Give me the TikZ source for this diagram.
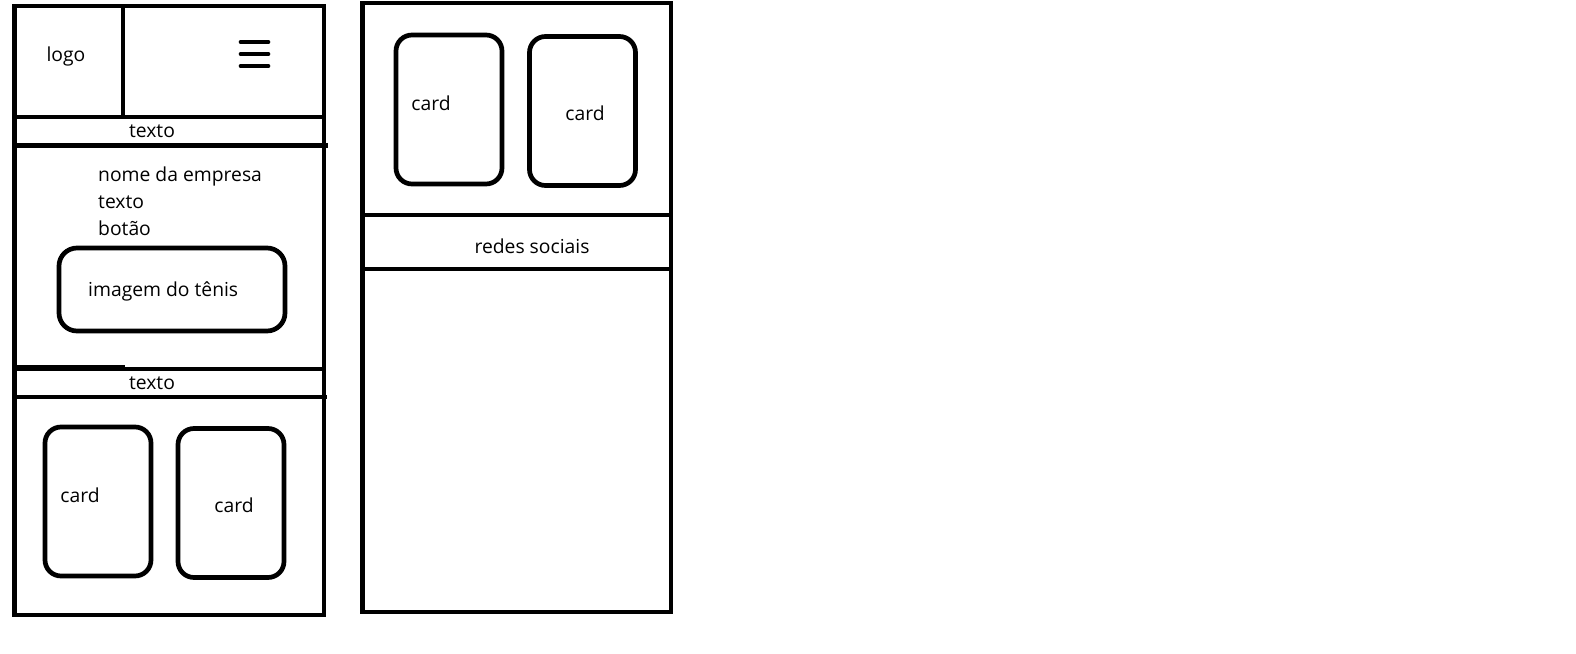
\documentclass[tikz,border=0pt]{standalone}
\usepackage{fontspec}
\setmainfont{Open Sans}
\usetikzlibrary{positioning}
\tikzstyle{frame} = [draw, line width=4.7pt]
\tikzstyle{card} = [rectangle, draw, line width=4.7pt, rounded corners=16pt,
    minimum width=106pt, minimum height=149pt, inner sep=0pt]
\tikzstyle{picbox} = [rectangle, draw, line width=4.7pt, rounded corners=18pt,
    minimum width=226pt, minimum height=83pt, inner sep=0pt]
\tikzstyle{txt} = [font=\fontsize{19.3}{22}\selectfont, inner sep=0pt, anchor=base]
\tikzstyle{menu} = [draw, line width=4.7pt, line cap=round]

\begin{document}
\begin{tikzpicture}[x=1pt, y=-1pt]
    \useasboundingbox (0,0) rectangle (1576,653);
    % Mobile page, first part
    \draw [frame] (14.5,6) rectangle (324,615);
    \draw [frame] (123,6) -- (123,117);
    \draw [frame] (14.5,117) -- (324,117);
    \draw [frame] (14.5,145.5) -- (328,145.5);
    \draw [frame] (14.5,367) -- (125,367);
    \draw [frame] (14.5,369) -- (326,369);
    \draw [frame] (14.5,397) -- (327,397);
    \draw [menu] (241,42) -- (268,42);
    \draw [menu] (241,54) -- (268,54);
    \draw [menu] (241,66) -- (268,66);
    \node [txt] (logo) at (66,61) {logo};
    \node [txt] (top) at (152,137) {texto};
    \node [txt, anchor=base west] (name) at (98,181.5) {nome da empresa};
    \node [txt, anchor=base west] (text) at (98,208) {texto};
    \node [txt, anchor=base west] (button) at (98,235) {botão};
    \node [picbox] (shoe) at (172,289.5) {};
    \node [txt, anchor=base west] (shoetxt) at (88,296) {imagem do tênis};
    \node [txt] (mid) at (152,389) {texto};
    \node [card] (cardA) at (98,501.5) {};
    \node [card] (cardB) at (231,503) {};
    \node [txt] at (80,502) {card};
    \node [txt] at (234,512) {card};
    % Mobile page, second part
    \draw [frame] (362.5,3) rectangle (671,612);
    \node [card] (cardC) at (449,109.5) {};
    \node [card] (cardD) at (582.5,111) {};
    \node [txt] at (431,110) {card};
    \node [txt] at (585,120) {card};
    \draw [frame] (362.5,215) -- (671,215);
    \draw [frame] (362.5,269) -- (671,269);
    \node [txt] (social) at (532,253) {redes sociais};
\end{tikzpicture}
\end{document}
